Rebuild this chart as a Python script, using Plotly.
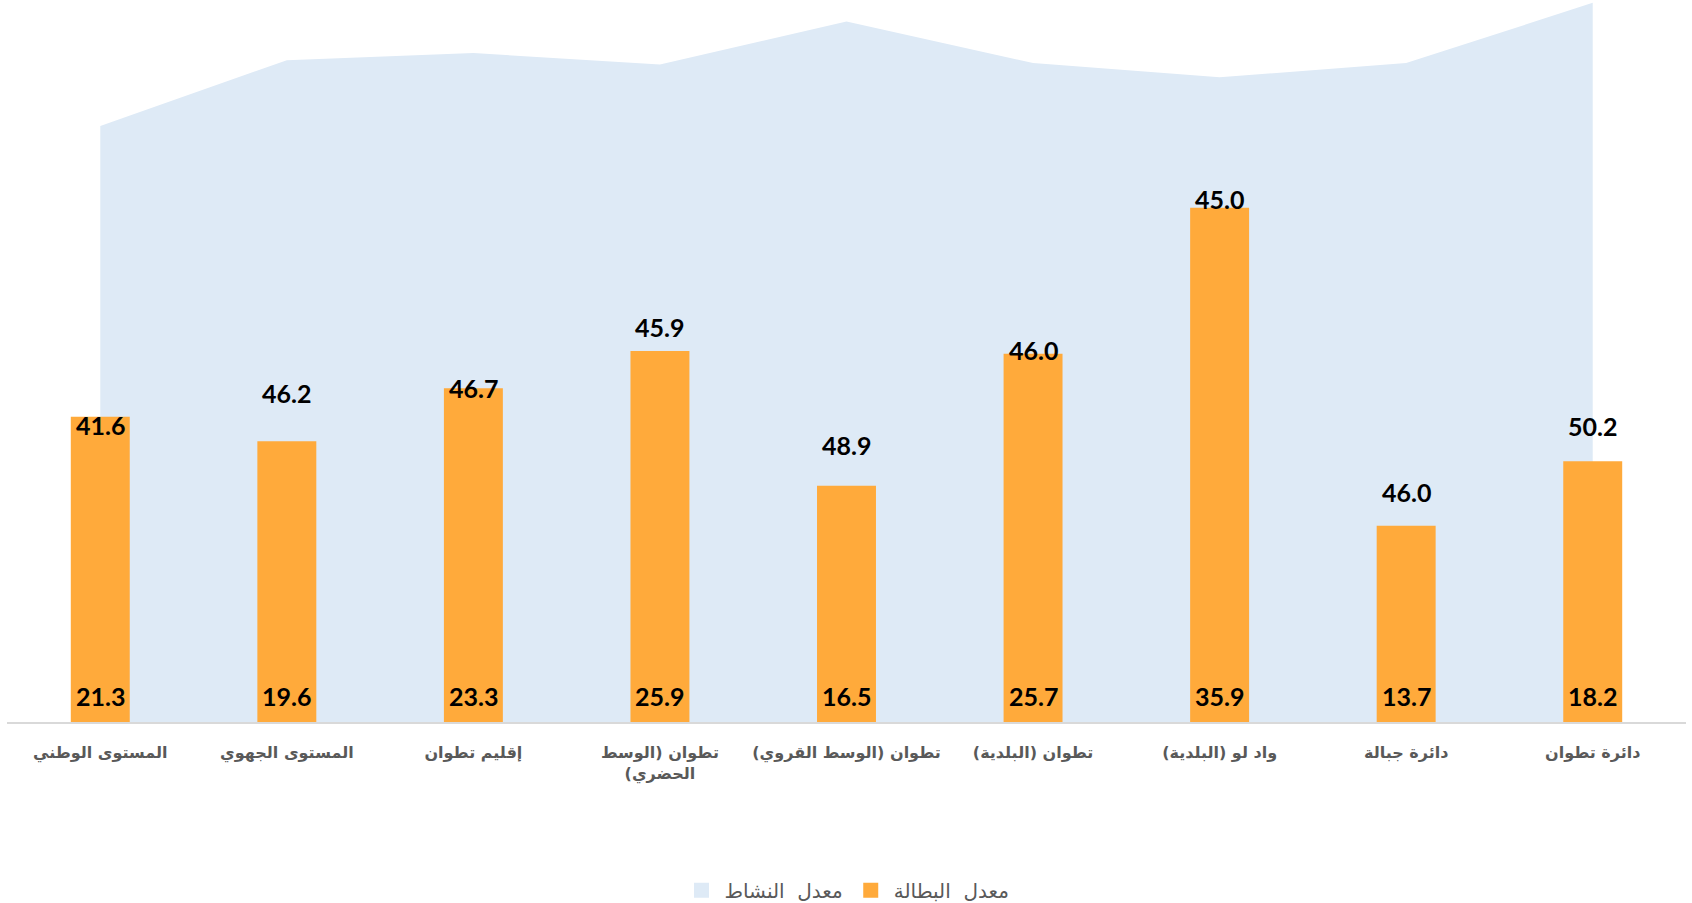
import plotly.graph_objects as go

# categories, left to right as drawn
CATEGORIES = [
    "المستوى الوطني",
    "المستوى الجهوي",
    "إقليم تطوان",
    "تطوان (الوسط<br>الحضري)",
    "تطوان (الوسط القروي)",
    "تطوان (البلدية)",
    "واد لو (البلدية)",
    "دائرة جبالة",
    "دائرة تطوان",
]
ACTIVITY_RATE = [41.6, 46.2, 46.7, 45.9, 48.9, 46.0, 45.0, 46.0, 50.2]
UNEMPLOYMENT_RATE = [21.3, 19.6, 23.3, 25.9, 16.5, 25.7, 35.9, 13.7, 18.2]

# where the activity-rate labels sit, relative to the bar top (data units)
ACTIVITY_LABEL_LIFT = [-0.56, 3.37, 0.02, 1.68, 2.84, 0.28, 0.62, 2.36, 2.47]

AREA_COLOR = "#DEEAF6"
BAR_COLOR = "#FFAA3B"
TEXT_GREY = "#595959"
ARABIC_FONT = "DejaVu Sans, Liberation Sans, sans-serif"
NUM_FONT = "Lato, Open Sans, sans-serif"
Y_RANGE = [0, 50.4]


def rtl(label):
    # wrap each line in RLM marks so brackets stay in place
    return "<br>".join("\u200f" + ln + "\u200f" for ln in label.split("<br>"))


fig = go.Figure()

# area on the base axis, bars on an overlaying axis so they draw on top
fig.add_trace(go.Scatter(
    x=CATEGORIES, y=ACTIVITY_RATE,
    mode="none", fill="tozeroy", fillcolor=AREA_COLOR,
    showlegend=False, hoverinfo="skip",
))
fig.add_trace(go.Bar(
    x=CATEGORIES, y=UNEMPLOYMENT_RATE, yaxis="y2",
    marker=dict(color=BAR_COLOR, line=dict(width=0)),
    showlegend=False,
))

# legend proxies (square swatches)
fig.add_trace(go.Scatter(
    x=[None], y=[None], mode="markers", name="معدل  النشاط",
    marker=dict(symbol="square", size=15, color=AREA_COLOR),
))
fig.add_trace(go.Scatter(
    x=[None], y=[None], mode="markers", name="معدل  البطالة",
    marker=dict(symbol="square", size=15, color=BAR_COLOR),
))

annotations = []
for cat, u, a, lift in zip(CATEGORIES, UNEMPLOYMENT_RATE, ACTIVITY_RATE, ACTIVITY_LABEL_LIFT):
    annotations.append(dict(
        x=cat, y=0, yref="y2", yanchor="middle", yshift=26, showarrow=False,
        text=f"<b>{u:.1f}</b>", font=dict(family=NUM_FONT, size=25, color="#000000"),
    ))
    annotations.append(dict(
        x=cat, y=u + lift, yref="y2", yanchor="middle", showarrow=False,
        text=f"<b>{a:.1f}</b>", font=dict(family=NUM_FONT, size=25, color="#000000"),
    ))

fig.update_layout(
    width=1692, height=903,
    margin=dict(l=7, r=6, t=0, b=181, autoexpand=False),
    paper_bgcolor="white", plot_bgcolor="white",
    bargap=0.684,
    showlegend=True,
    legend=dict(
        orientation="h", x=0.5, xanchor="center",
        yref="container", y=0.014, yanchor="middle",
        itemwidth=36,
        font=dict(family=ARABIC_FONT, size=20, color=TEXT_GREY),
    ),
    annotations=annotations,
    yaxis=dict(range=Y_RANGE, visible=False, showgrid=False, zeroline=False),
    yaxis2=dict(overlaying="y", range=Y_RANGE, visible=False,
                showgrid=False, zeroline=False),
)
fig.update_xaxes(
    type="category",
    tickvals=CATEGORIES,
    ticktext=["<b>" + rtl(c) + "</b>" for c in CATEGORIES],
    tickfont=dict(family=ARABIC_FONT, size=16, color=TEXT_GREY),
    showline=True, linecolor="#D9D9D9", linewidth=2,
    ticks="", ticklabelstandoff=15,
    showgrid=False, zeroline=False, automargin=False,
)

# drop the default page margin so the 1692x903 figure sits at the window corner
fig.write_html("out.html", config={"displayModeBar": False},
               post_script="document.body.style.margin = '0';")
